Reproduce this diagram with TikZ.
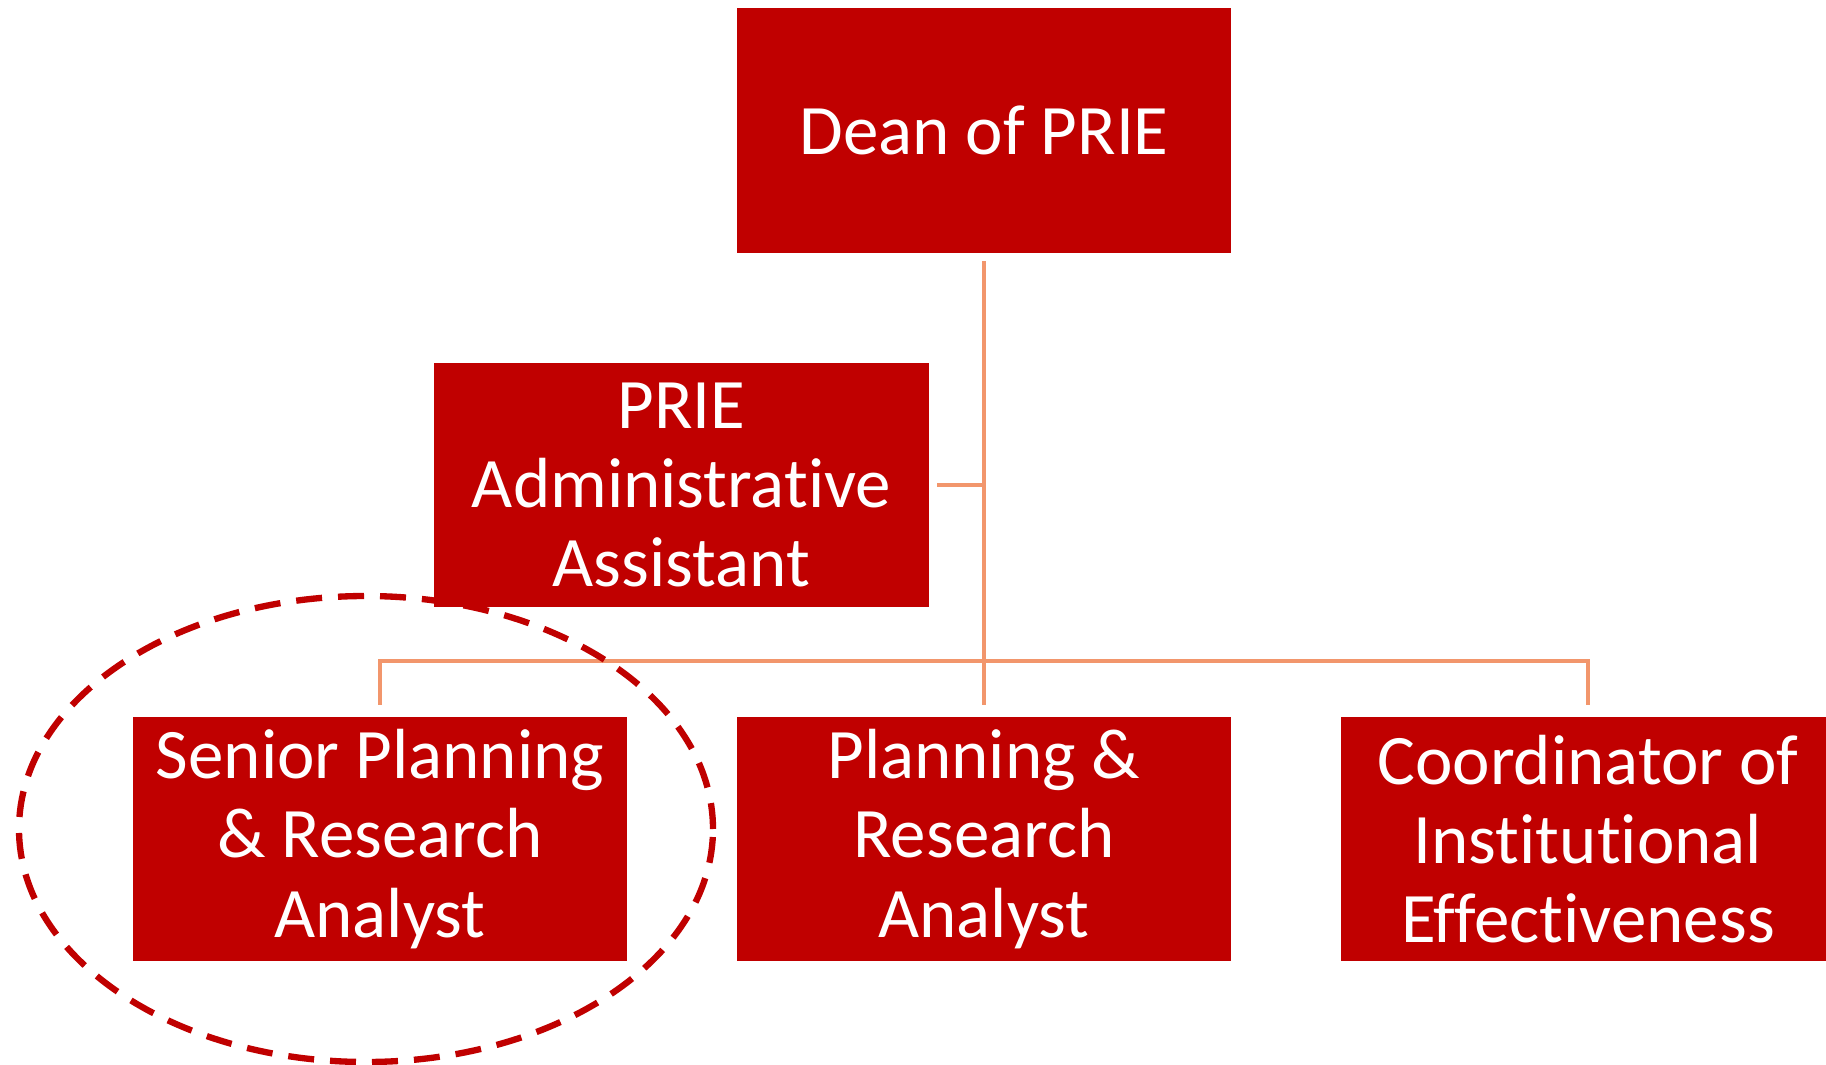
\documentclass[tikz,border=0pt]{standalone}
\usepackage{fontspec}
\setmainfont{Carlito}[RawFeature={-liga;-clig;-dlig;-calt}]
\usetikzlibrary{positioning}
\definecolor{boxred}{RGB}{192,0,0}
\definecolor{linkorange}{RGB}{242,150,108}

\begin{document}
\begin{tikzpicture}[node distance=6.04cm,
    post/.style={rectangle,fill=boxred,draw=white,line width=0.3pt,text=white,
      minimum width=4.96cm,minimum height=2.46cm,inner sep=0pt,
      text width=4.8cm,align=flush center,font=\fontsize{20.2}{22.5}\selectfont},
    link/.style={draw=linkorange,line width=1pt},
    ring/.style={draw=boxred,line width=1.8pt,dash pattern=on 0.26cm off 0.16cm}]
            \useasboundingbox (0,0) rectangle (18.26,10.64);
            \node[post] (senior) at (3.80,2.25) {Senior Planning\\\& Research\\Analyst};
            \node[post] (planner) [right of=senior] {Planning \&\\Research\\Analyst};
            \node[post] (coord) [right of=planner] {Coordinator of\\Institutional\\Effectiveness};
            \node[post] (dean) [above of=planner,node distance=7.085cm] {Dean of PRIE};
            \node[post] (admin) at (6.815,5.79) {PRIE\\Administrative\\Assistant};
            \coordinate (bus) at (9.84,4.03);
            \draw[link,shorten <=2pt,shorten >=3pt] (dean.south) -- (planner.north);
            \draw[link,shorten <=2pt] (admin.east) -- (admin.east -| dean.south);
            \draw[link,shorten <=3pt,shorten >=3pt] (senior.north) |- (bus) -| (coord.north);
            \draw[ring] (3.66,2.35) ellipse (3.47cm and 2.33cm);
        \end{tikzpicture}
\end{document}
